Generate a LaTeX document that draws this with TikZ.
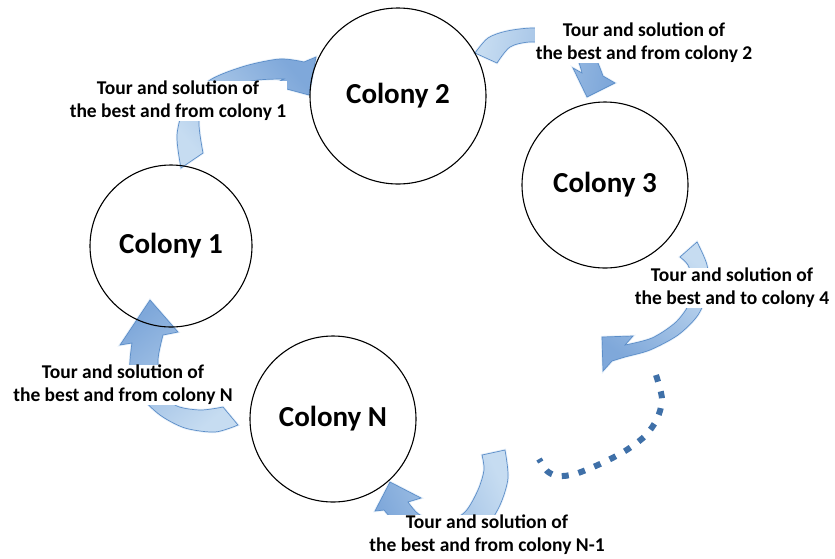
\documentclass[tikz,border=0pt]{standalone}
\usepackage{fontspec}
\setmainfont{Carlito}
\definecolor{arrowdark}{HTML}{7FA8DA}
\definecolor{arrowlight}{HTML}{C6DCF1}
\definecolor{arrowedge}{HTML}{5B8DC8}
\definecolor{dotblue}{HTML}{3F70A8}
\begin{document}
\begin{tikzpicture}[x=1pt,y=-1pt]
\tikzset{
  colony/.style={circle, draw=black, line width=1.1pt, minimum size=#1, inner sep=0pt,
    font=\fontsize{29}{34}\selectfont\bfseries},
  lbl/.style={fill=white, align=center, inner sep=0.5pt,
    font=\fontsize{19.5}{23}\selectfont\bfseries},
  carrow/.style={draw=arrowedge, line width=0.7pt, top color=arrowdark,
    bottom color=arrowlight, shading angle=#1,
    preaction={draw=arrowlight, line width=2.4pt, opacity=0.45}},
  dots/.style={draw=dotblue, line width=6pt, dash pattern=on 7pt off 10pt}
}
\useasboundingbox (0,0) rectangle (835,558);

% curved arrows
% colony 1 -> colony 2
\path[carrow=-50] (203,153) -- (181,168)
  -- plot[smooth] coordinates {(181,168) (177,135) (186,104) (210,80) (245,66) (280,59) (304,62)}
  -- (316,57) -- (309,95) -- (272,85)
  -- plot[smooth] coordinates {(284,79) (258,80) (232,86) (210,100) (199,120) (203,153)}
  -- cycle;
% colony 2 -> colony 3
\path[carrow=-100] (497,63) -- (475,53)
  -- plot[smooth] coordinates {(475,53) (488,38) (507,31) (535,28) (565,33) (590,48) (603,76)}
  -- (615,83) -- (587,97) -- (573,68)
  -- plot[smooth] coordinates {(582,73) (575,55) (555,45) (530,42) (510,47) (497,63)}
  -- cycle;
% colony 3 -> colony 4
\path[carrow=143] (680,257) -- (697,242)
  -- plot[smooth] coordinates {(697,242) (707,265) (708,290) (698,315) (678,335) (650,350) (625,357) (612,361)}
  -- (603,371) -- (602,337) -- (633,336)
  -- plot[smooth] coordinates {(625,345) (652,338) (676,322) (690,302) (692,280) (688,265) (680,257)}
  -- cycle;
% colony N-1 -> colony N
\path[carrow=114] (482,455) -- (505,450)
  -- plot[smooth] coordinates {(505,450) (508,478) (500,505) (485,528) (460,542) (430,545) (403,530) (384,510)}
  -- (375,511) -- (390,482) -- (421,498)
  -- plot[smooth] coordinates {(408,502) (420,515) (445,522) (465,512) (478,490) (484,470) (482,455)}
  -- cycle;
% colony N -> colony 1
\path[carrow=39] (223,407) -- (238,425)
  -- plot[smooth] coordinates {(238,425) (215,432) (185,428) (160,415) (140,395) (130,370) (132,343)}
  -- (120,345) -- (150,300) -- (178,332)
  -- plot[smooth] coordinates {(163,335) (158,360) (162,385) (175,405) (200,410) (223,407)}
  -- cycle;

% dotted continuation
\draw[dots] plot[smooth] coordinates {(656,375) (662,399) (657,419) (645,436) (625,451) (600,464) (575,474) (558,476) (547,471) (539,459)};

% colonies
\node[colony=162pt] (c1) at (171,246) {Colony 1};
\node[colony=176pt] (c2) at (398,96) {Colony 2};
\node[colony=166pt] (c3) at (605,185) {Colony 3};
\node[colony=166pt] (cn) at (333,419) {Colony N};

% labels
\node[lbl] (l1) at (178,101) {Tour and solution of\\the best and from colony 1};
\node[lbl] (l2) at (644,43) {Tour and solution of\\the best and from colony 2};
\node[lbl] (l3) at (732,288) {Tour and solution of\\the best and to colony 4};
\node[lbl] (ln) at (123,385) {Tour and solution of\\the best and from colony N};
\node[lbl] (ln1) at (487,535) {Tour and solution of\\the best and from colony N-1};
\end{tikzpicture}
\end{document}
